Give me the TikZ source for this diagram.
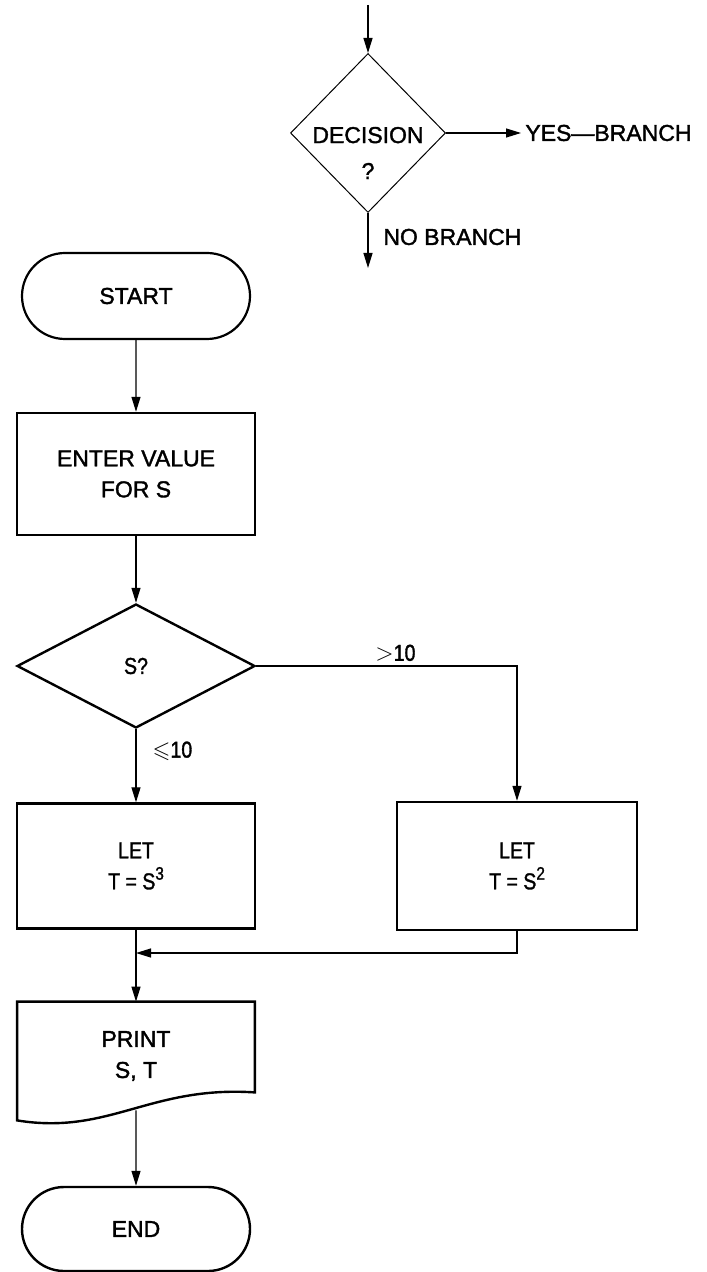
\documentclass[tikz,border=0pt]{standalone}
\usepackage{fontspec}
\usepackage{amssymb}
\setmainfont{Liberation Sans}[FakeBold=1.6]
\newfontfamily\condfont{Liberation Sans}[FakeStretch=0.85, FakeBold=1.4]
\newcommand{\supnum}[1]{\raisebox{0.42em}{\fontsize{9}{9}\selectfont #1}}
\usetikzlibrary{shapes.geometric,shapes.misc,arrows.meta}

\begin{document}
\begin{tikzpicture}[x=0.5pt, y=-0.5pt,
  every node/.style={font=\fontsize{11.5}{15.5}\selectfont, align=center, inner sep=2pt},
  box/.style={draw, line width=1.2pt, minimum width=119pt, minimum height=61pt},
  term/.style={draw, rounded rectangle, line width=1.1pt, minimum width=118pt, minimum height=43pt},
  decide/.style={draw, diamond, inner sep=0pt},
  cond/.style={font=\condfont\fontsize{11.5}{15.5}\selectfont},
  conn/.style={line width=0.6pt, -{Triangle[length=7.5pt, width=4.5pt]}}]
\useasboundingbox (0,0) rectangle (706,1272);
% legend
\coordinate (L1C0) at (368,5);
\node[decide, line width=0.5pt, minimum width=77.5pt, minimum height=79.5pt] (L1N0) at (368,133) {};
\node (L1T0) at (368,153) {DECISION\\[2.5pt]?};
\node[anchor=west] (L1N1) at (521,133) {YES—BRANCH};
\coordinate (L1C1) at (368,268);
\node[anchor=west] (L1N2) at (379,237) {NO BRANCH};
\draw[conn] (L1C0) -- (L1N0.north);
\draw[conn] (L1N0.east) -- (L1N1.west);
\draw[conn] (L1N0.south) -- (L1C1);
% flowchart
\node[term] (F1N0) at (136,296) {START};
\node[box] (F1N1) at (136,474) {ENTER VALUE\\FOR S};
\node[decide, cond, line width=1.2pt, minimum width=119pt, minimum height=62pt] (F1N2) at (136,666) {S?};
\node[box, cond, minimum height=62.5pt] (F1N3) at (136,866) {LET\\T = S\supnum{3}};
\node[box, cond, minimum width=120pt, minimum height=64pt] (F1N4) at (517,866) {LET\\T = S\supnum{2}};
\coordinate (F1C0) at (136,953);
\node[minimum width=118.5pt, minimum height=54pt] (F1N5) at (136,1056) {PRINT\\S, T};
\node[term, line width=1.2pt, minimum height=42pt] (F1N6) at (136,1229) {END};
\draw[line width=1.2pt] (F1N5.north west) -- (F1N5.north east) -- ([yshift=9pt]F1N5.south east)
  .. controls +(-52.5pt,3.5pt) and +(46pt,-7.5pt) .. ([yshift=-5pt]F1N5.south west) -- cycle;
\draw[conn] (F1N0) -- (F1N1);
\draw[conn] (F1N1) -- (F1N2);
\draw[conn] (F1N2) -- node[right, cond, pos=0.3, xshift=6pt] (F1T0) {$\leqslant$10} (F1N3);
\draw[conn] (F1N2.east) -| node[above, cond, pos=0.267] (F1T1) {$>$10} (F1N4);
\draw[conn] (F1N4) |- (F1C0);
\draw[conn] (F1N3) -- (F1N5);
\draw[conn] (F1N5) -- (F1N6);
\end{tikzpicture}
\end{document}
